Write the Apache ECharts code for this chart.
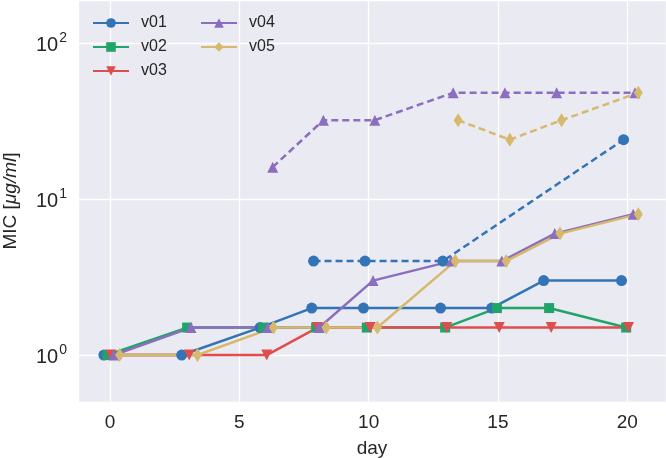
<!DOCTYPE html>
<html>
<head>
<meta charset="utf-8">
<script src="https://cdn.jsdelivr.net/npm/echarts@6/dist/echarts.min.js"></script>
<style>
html,body{margin:0;padding:0;background:#fff;}
#chart{width:666px;height:458px;}
</style>
</head>
<body>
<div id="chart"></div>
<script>
// ---- data (x = day with the plotted dodge, y = MIC) ----
const names = ['v01', 'v02', 'v03', 'v04', 'v05'];

const dayV01 = [-0.24, 2.77, 5.8, 7.8, 9.8, 12.78, 14.76, 16.77, 19.78];
const micV01 = [1, 1, 1.5, 2, 2, 2, 2, 3, 3];
const dayV01b = [7.87, 9.86, 12.87, 19.86];
const micV01b = [4, 4, 4, 24];

const dayV02 = [-0.1, 2.98, 5.93, 7.97, 9.93, 12.96, 14.96, 16.98, 19.96];
const micV02 = [1, 1.5, 1.5, 1.5, 1.5, 1.5, 2, 2, 1.5];

const dayV03 = [0.03, 3.06, 6.06, 8.02, 10.06, 13.02, 15.05, 17.06, 20.05];
const micV03 = [1, 1, 1, 1.5, 1.5, 1.5, 1.5, 1.5, 1.5];

const dayV04 = [0.15, 3.13, 6.1, 8.09, 10.17, 13.2, 15.15, 17.2, 20.23];
const micV04 = [1, 1.5, 1.5, 1.5, 3, 4, 4, 6, 8];
const dayV04b = [6.29, 8.25, 10.24, 13.27, 15.27, 17.27, 20.3];
const micV04b = [16, 32, 32, 48, 48, 48, 48];

const dayV05 = [0.37, 3.38, 6.32, 8.36, 10.34, 13.35, 15.32, 17.4, 20.43];
const micV05 = [1, 1, 1.5, 1.5, 1.5, 4, 4, 6, 8];
const dayV05b = [13.46, 15.46, 17.46, 20.43];
const micV05b = [32, 24, 32, 48];

const xTicks = [0, 5, 10, 15, 20];
const yTicks = [1, 10, 100];

// ---- styling ----
const colors = {v01: '#3274B5', v02: '#21A46A', v03: '#DE4E4E', v04: '#8B6FBE', v05: '#D6B96C'};
const symbols = {v01: 'circle', v02: 'rect', v03: 'triangle', v04: 'triangle', v05: 'diamond'};
const symSizes = {v01: 11, v02: 10, v03: 11, v04: 11, v05: [9, 14]};
const symRot = {v01: 0, v02: 0, v03: 180, v04: 0, v05: 0};
const FONT = 'Liberation Sans';

function pairs(xs, ys) { return xs.map((x, i) => [x, ys[i]]); }

function mkSeries(name, key, xs, ys, dashed) {
  return {
    name: name,
    type: 'line',
    data: pairs(xs, ys),
    symbol: symbols[key],
    symbolSize: symSizes[key],
    symbolRotate: symRot[key],
    showSymbol: true,
    color: colors[key],
    lineStyle: {width: 2.5, color: colors[key], type: dashed ? [7, 4] : 'solid'},
    itemStyle: {color: colors[key]},
    emphasis: {disabled: true},
    animation: false,
    z: 2
  };
}

const series = [
  mkSeries('v01', 'v01', dayV01, micV01, false),
  mkSeries('v01 d', 'v01', dayV01b, micV01b, true),
  mkSeries('v02', 'v02', dayV02, micV02, false),
  mkSeries('v03', 'v03', dayV03, micV03, false),
  mkSeries('v04', 'v04', dayV04, micV04, false),
  mkSeries('v04 d', 'v04', dayV04b, micV04b, true),
  mkSeries('v05', 'v05', dayV05, micV05, false),
  mkSeries('v05 d', 'v05', dayV05b, micV05b, true)
];

const legendBase = {
  orient: 'vertical',
  itemWidth: 36,
  itemHeight: 12,
  itemGap: 8,
  padding: 0,
  textStyle: {fontFamily: FONT, fontSize: 16, color: '#262626', padding: [0, 0, 0, 7]},
  selectedMode: false
};

const chart = echarts.init(document.getElementById('chart'), null, {renderer: 'canvas'});
chart.setOption({
  backgroundColor: '#ffffff',
  animation: false,
  grid: {left: 78, right: 0, top: 0, bottom: 56, show: true, backgroundColor: '#EAEAF2', borderWidth: 0,
         containLabel: false, outerBoundsMode: 'none'},
  legend: [
    Object.assign({}, legendBase, {data: names.slice(0, 3), left: 92, top: 15}),
    Object.assign({}, legendBase, {data: names.slice(3), left: 200, top: 15})
  ],
  xAxis: {
    type: 'value',
    min: -1.24,
    max: 21.5,
    name: 'day',
    nameLocation: 'middle',
    nameGap: 37,
    nameTextStyle: {fontFamily: FONT, fontSize: 19, color: '#262626'},
    axisLine: {show: false},
    axisTick: {show: false},
    axisLabel: {
      fontFamily: FONT, fontSize: 19, color: '#262626', margin: 11,
      showMinLabel: false, showMaxLabel: false,
      formatter: function (v) { return xTicks.indexOf(v) >= 0 ? String(v) : ''; }
    },
    splitLine: {show: true, lineStyle: {color: '#ffffff', width: 1.3}}
  },
  yAxis: {
    type: 'log',
    logBase: 10,
    min: 0.5,
    max: 188.6,
    name: '{n|MIC [}{i|μg/ml}{n|]}',
    nameLocation: 'middle',
    nameGap: 58,
    nameTextStyle: {
      fontFamily: FONT, fontSize: 19, color: '#262626',
      rich: {
        n: {fontFamily: FONT, fontSize: 19, color: '#262626'},
        i: {fontFamily: FONT, fontSize: 19, color: '#262626', fontStyle: 'italic'}
      }
    },
    axisLine: {show: false},
    axisTick: {show: false},
    axisLabel: {
      margin: 11,
      showMinLabel: false, showMaxLabel: false,
      formatter: function (v) {
        const e = Math.round(Math.log10(v));
        if (Math.abs(Math.log10(v) - e) > 1e-6 || yTicks.indexOf(Math.pow(10, e)) < 0) return '';
        return '{b|10}{s|' + e + '}';
      },
      rich: {
        b: {fontFamily: FONT, fontSize: 20, color: '#262626', lineHeight: 24, verticalAlign: 'bottom'},
        s: {fontFamily: FONT, fontSize: 14, color: '#262626', lineHeight: 24, verticalAlign: 'top', padding: [0, 0, 0, 1]}
      }
    },
    splitLine: {show: true, lineStyle: {color: '#ffffff', width: 1.3}},
    minorTick: {show: false},
    minorSplitLine: {show: false}
  },
  series: series
});
</script>
</body>
</html>
